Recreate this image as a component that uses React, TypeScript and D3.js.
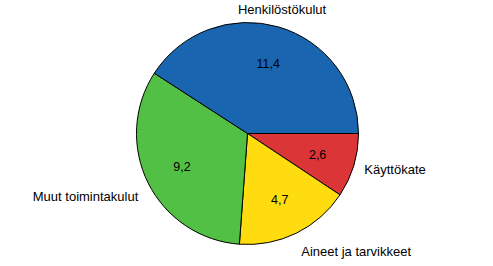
import React from "react";
import * as d3 from "d3";

const categories = ["Käyttökate", "Aineet ja tarvikkeet", "Muut toimintakulut", "Henkilöstökulut"];
const values = [2.6, 4.7, 9.2, 11.4];
const valueLabels = ["2,6", "4,7", "9,2", "11,4"];
const colors = ["#dc3538", "#fedc10", "#52c045", "#1a65b0"];

const W = 493;
const H = 266;
const cx = 247.5;
const cy = 133.5;
const R = 111;

export default function App() {
  const pie = d3
    .pie<number>()
    .sort(null)
    .startAngle(Math.PI / 2)
    .endAngle(Math.PI / 2 + 2 * Math.PI)(values);
  const arc = d3.arc<d3.PieArcDatum<number>>().innerRadius(0).outerRadius(R);
  const font = "'Liberation Sans', Arial, sans-serif";

  return (
    <svg
      width={W}
      height={H}
      style={{ position: "absolute", left: 0, top: 0, background: "#fff" }}
    >
      <g transform={`translate(${cx},${cy})`}>
        {pie.map((d, i) => (
          <path key={i} d={arc(d) || ""} fill={colors[i]} stroke="#000" strokeWidth={1} />
        ))}
        {pie.map((d, i) => {
          const a = (d.startAngle + d.endAngle) / 2;
          const x = Math.sin(a) * R * 0.66;
          const y = -Math.cos(a) * R * 0.66;
          return (
            <text
              key={"v" + i}
              x={x}
              y={y + 4.5}
              textAnchor="middle"
              fontFamily={font}
              fontSize={12.5}
              fill="#000"
            >
              {valueLabels[i]}
            </text>
          );
        })}
        {pie.map((d, i) => {
          const a = (d.startAngle + d.endAngle) / 2;
          const c = Math.sin(a);
          const s = -Math.cos(a);
          const px = c * (R + 11);
          const py = s * (R + 11);
          const anchor = c > 0.3 ? "start" : c < -0.3 ? "end" : "middle";
          const dy = s > 0.3 ? 13 : s < -0.3 ? -2.4 : 5;
          return (
            <text
              key={"l" + i}
              x={px}
              y={py + dy}
              textAnchor={anchor}
              fontFamily={font}
              fontSize={13}
              fill="#000"
            >
              {categories[i]}
            </text>
          );
        })}
      </g>
    </svg>
  );
}
